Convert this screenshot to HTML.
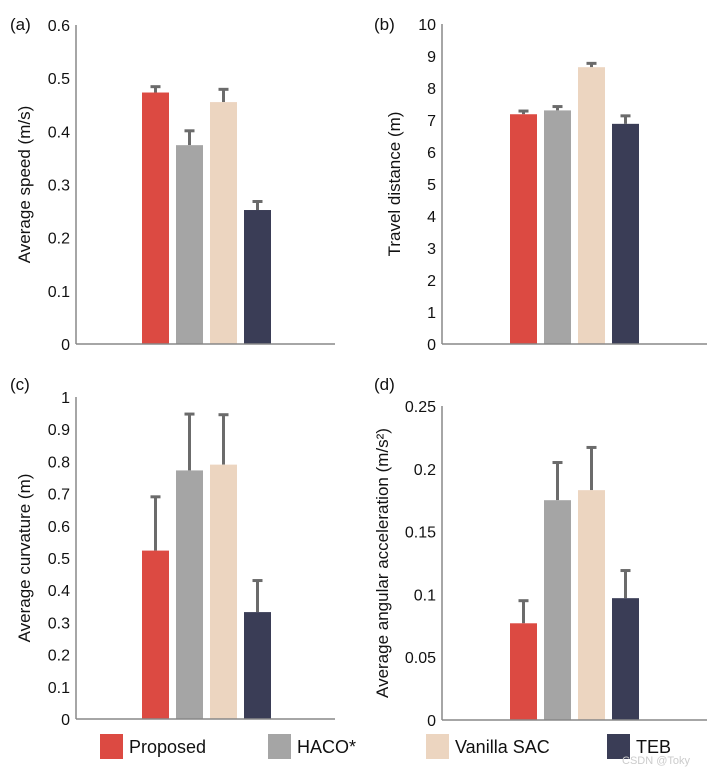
<!DOCTYPE html>
<html><head><meta charset="utf-8"><style>
body{margin:0;background:#fff;}
svg{display:block;font-family:"Liberation Sans",Arial,sans-serif;}
</style></head><body>
<svg id="c" width="720" height="772" viewBox="0 0 720 772"></svg>
<script>
const categories=["Proposed","HACO*","Vanilla SAC","TEB"];
const colors=["#dc4a42","#a5a5a5","#ecd5c0","#3a3d56"];
const speedVals=[0.473,0.374,0.455,0.252];
const speedErr=[0.011,0.027,0.024,0.016];
const distVals=[7.18,7.30,8.65,6.88];
const distErr=[0.10,0.12,0.12,0.25];
const curvVals=[0.523,0.772,0.790,0.332];
const curvErr=[0.167,0.175,0.155,0.098];
const accVals=[0.077,0.175,0.183,0.097];
const accErr=[0.018,0.030,0.034,0.022];
const speedTicks=["0","0.1","0.2","0.3","0.4","0.5","0.6"];
const distTicks=["0","1","2","3","4","5","6","7","8","9","10"];
const curvTicks=["0","0.1","0.2","0.3","0.4","0.5","0.6","0.7","0.8","0.9","1"];
const accTicks=["0","0.05","0.1","0.15","0.2","0.25"];
const NS="http://www.w3.org/2000/svg";
const svg=document.getElementById('c');
function mk(t,a,p){const e=document.createElementNS(NS,t);for(const k in a)e.setAttribute(k,a[k]);(p||svg).appendChild(e);return e;}
const panels=[
 {id:"a",label:"(a)",title:"Average speed (m/s)",ax:76,top:25,bot:344,right:335,bx:142,vals:speedVals,err:speedErr,ticks:speedTicks,max:0.6,lx:10,ly:30,tx:30},
 {id:"b",label:"(b)",title:"Travel distance (m)",ax:442,top:24,bot:344,right:707,bx:510,vals:distVals,err:distErr,ticks:distTicks,max:10,lx:374,ly:30,tx:400},
 {id:"c",label:"(c)",title:"Average curvature (m)",ax:76,top:397,bot:719,right:335,bx:142,vals:curvVals,err:curvErr,ticks:curvTicks,max:1,lx:10,ly:390,tx:30},
 {id:"d",label:"(d)",title:"Average angular acceleration (m/s²)",ax:442,top:406,bot:720,right:707,bx:510,vals:accVals,err:accErr,ticks:accTicks,max:0.25,lx:374,ly:390,tx:388}
];
panels.forEach(p=>{
 const g=mk('g',{});
 
 
 const y=v=>p.bot-(v/p.max)*(p.bot-p.top);
 const lab=mk('text',{x:p.lx,y:p.ly,'font-size':17,fill:'#111'},g);lab.textContent=p.label;
 
 const ya=mk('line',{x1:p.ax,y1:p.top,x2:p.ax,y2:p.bot,stroke:'#888','stroke-width':1.5},g);
 
 p.ticks.forEach(t=>{const v=parseFloat(t);
  const tt=mk('text',{x:p.ax-6,y:y(v)+6,'font-size':16,fill:'#111','text-anchor':'end'},g);tt.textContent=t;
  
 });
 const ti=mk('text',{x:0,y:0,'font-size':17,fill:'#111','text-anchor':'middle',transform:`translate(${p.tx},${(p.top+p.bot)/2}) rotate(-90)`},g);ti.textContent=p.title;
 
 p.vals.forEach((v,i)=>{
  const x=p.bx+i*34,w=27,cx=x+w/2;
  const e=p.err[i];
  const el=mk('line',{x1:cx,y1:y(v),x2:cx,y2:y(v+e),stroke:'#6b6b6b','stroke-width':3},g);
  
  mk('line',{x1:cx-5,y1:y(v+e),x2:cx+5,y2:y(v+e),stroke:'#6b6b6b','stroke-width':3},g);
  const r=mk('rect',{x:x,y:y(v),width:w,height:p.bot-y(v),fill:colors[i]},g);
  
 });
 const xa=mk('line',{x1:p.ax,y1:p.bot,x2:p.right,y2:p.bot,stroke:'#888','stroke-width':1.5},g);
 
});
const legX=[100,268,426,607];
categories.forEach((c,i)=>{
 const g=mk('g',{});
 
 
 mk('rect',{x:legX[i],y:734,width:23,height:25,fill:colors[i]},g);
 const t=mk('text',{x:legX[i]+29,y:753,'font-size':18,fill:'#111'},g);t.textContent=c;
});
const wm=mk('text',{x:622,y:764,'font-size':11,fill:'#ccc'});wm.textContent="CSDN @Toky";

</script>
</body></html>
